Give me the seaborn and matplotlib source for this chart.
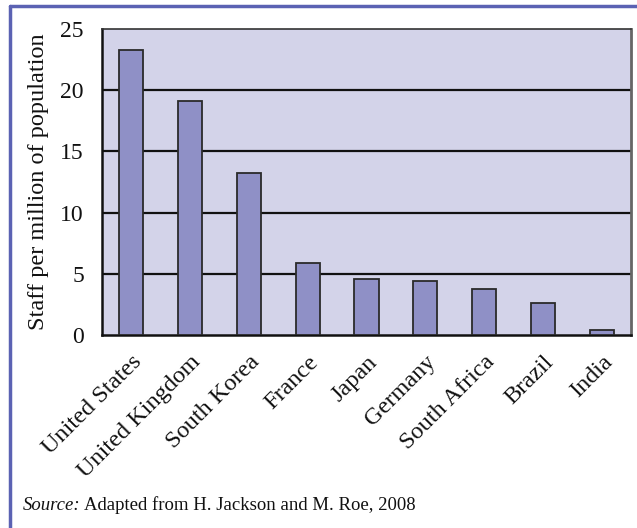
import matplotlib
matplotlib.use("Agg")
import matplotlib.pyplot as plt
from matplotlib.lines import Line2D
import seaborn as sns
import pandas as pd
import numpy as np

countries = ["United States", "United Kingdom", "South Korea", "France", "Japan",
             "Germany", "South Africa", "Brazil", "India"]
staff_per_million = [23.3, 19.1, 13.2, 5.85, 4.6, 4.45, 3.75, 2.6, 0.4]
y_ticks = [0, 5, 10, 15, 20, 25]

df = pd.DataFrame({"country": countries, "staff": staff_per_million})

sns.set_theme(style="white")
plt.rcParams["font.family"] = ["Liberation Serif", "DejaVu Serif"]

fig = plt.figure(figsize=(6.37, 5.28), dpi=100)
ax = fig.add_axes([0.1601, 0.3655, 0.8305, 0.5796])
ax.set_facecolor("#D3D3E9")

sns.barplot(data=df, x="country", y="staff", ax=ax, color="#8F90C6",
            saturation=1, width=0.41, edgecolor="#2a2a2a", linewidth=1.3, zorder=3)

ax.set_ylim(0, 25)
ax.set_xlim(-0.5, len(countries) - 0.5)
ax.set_yticks(y_ticks)
ax.set_yticklabels([str(v) for v in y_ticks], fontsize=17)
for v in y_ticks[1:-1]:
    ax.axhline(v, color="#111111", linewidth=1.6, zorder=1)

# category labels centred under bars, ticks on category boundaries
ax.set_xticks(range(len(countries)))
ax.set_xticklabels(countries, rotation=45, ha="right", rotation_mode="anchor", fontsize=17.5)
ax.tick_params(axis="x", which="major", length=0, pad=12)
ax.set_xticks(np.arange(-0.5, len(countries), 1.0), minor=True)
ax.tick_params(axis="x", which="minor", length=8, width=2, color="#111111", direction="out")
ax.tick_params(axis="y", length=9, width=2, color="#111111", direction="out", pad=4)
ax.tick_params(colors="#111111", labelcolor="#111111")

ax.set_xlabel("")
ax.set_ylabel("Staff per million of population", fontsize=17.5, labelpad=8, color="#111111")

for side in ["left", "bottom"]:
    ax.spines[side].set_color("#111111")
    ax.spines[side].set_linewidth(1.8)
ax.spines["top"].set_color("#333333")
ax.spines["top"].set_linewidth(1.2)
ax.spines["right"].set_color("#666666")
ax.spines["right"].set_linewidth(2.0)

# page frame
fig.add_artist(Line2D([10 / 637, 1.0], [1 - 6 / 528, 1 - 6 / 528], transform=fig.transFigure,
                      color="#5B62B3", linewidth=2.5))
fig.add_artist(Line2D([10 / 637, 10 / 637], [0, 1 - 6 / 528], transform=fig.transFigure,
                      color="#5B62B3", linewidth=2.5))

fig.text(23 / 637, 1 - 505 / 528, "Source:", fontsize=13.5, style="italic", color="#111111",
         va="center", ha="left")
fig.text(84 / 637, 1 - 505 / 528, "Adapted from H. Jackson and M. Roe, 2008", fontsize=13.5,
         color="#111111", va="center", ha="left")

fig.savefig("out.png", dpi=100)
